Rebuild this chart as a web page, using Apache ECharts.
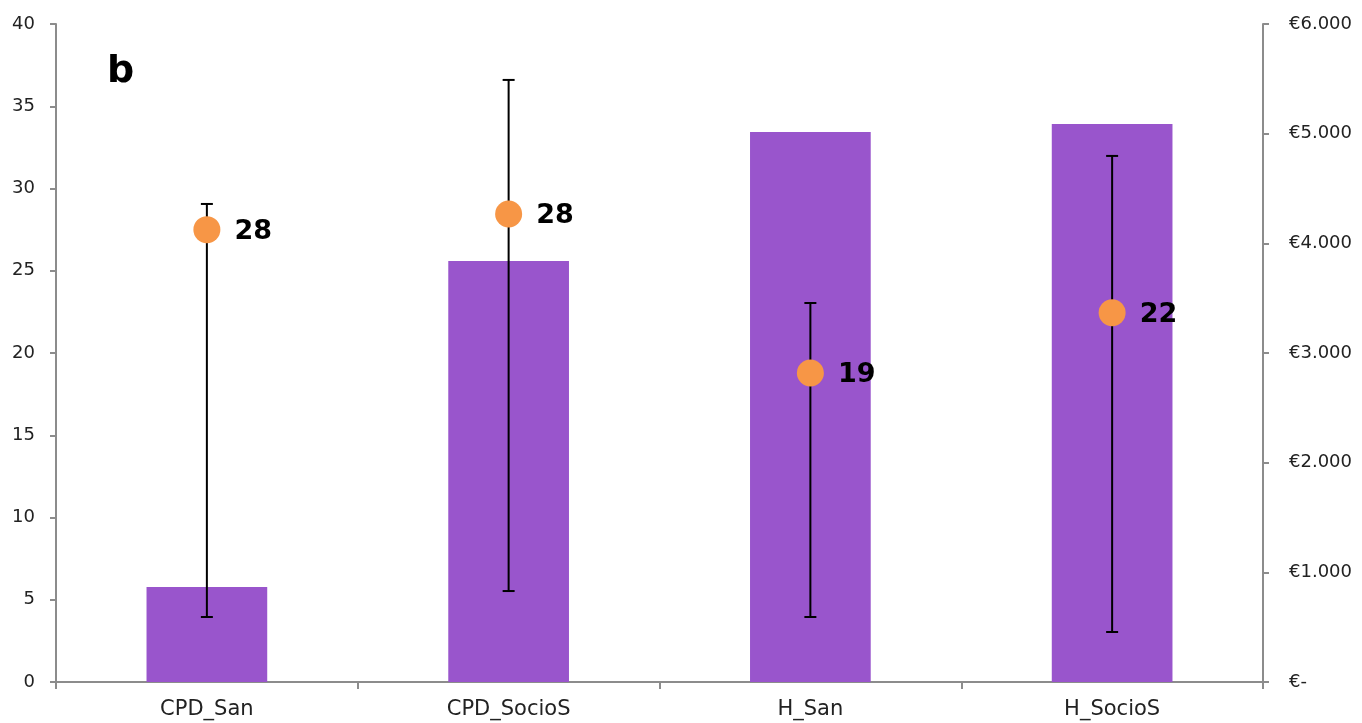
<!DOCTYPE html>
<html><head><meta charset="utf-8">
<script src="https://cdn.jsdelivr.net/npm/echarts@6/dist/echarts.min.js"></script>
<style>html,body{margin:0;padding:0;background:#fff}#c{width:1362px;height:723px}</style>
</head><body><div id="c"></div>
<script>
const categories = ['CPD_San', 'CPD_SocioS', 'H_San', 'H_SocioS'];
const costs = [866, 3840, 5015, 5088];          // bars, right axis (€)
const meanValues = [27.5, 28.45, 18.78, 22.45];  // dots, left axis
const errLow = [3.95, 5.53, 3.95, 3.04];
const errHigh = [29.06, 36.6, 23.04, 31.98];
const pointLabels = ['28', '28', '19', '22'];
const leftTicks = {min: 0, max: 40, interval: 5};
const rightTicks = {min: 0, max: 6000, interval: 1000};

const chart = echarts.init(document.getElementById('c'));
const axisColor = '#8c8c8c';
const fontAxis = "'DejaVu Sans', sans-serif";
chart.setOption({
  animation: false,
  grid: {left: 56, right: 99, top: 24, bottom: 41},
  graphic: [{type: 'text', left: 107, top: 53, style: {text: 'b', font: "bold 38px 'DejaVu Sans', sans-serif", fill: '#000'}}],
  xAxis: {
    type: 'category', data: categories,
    axisLine: {lineStyle: {color: axisColor, width: 2}},
    axisTick: {show: true, length: 7, lineStyle: {color: axisColor, width: 2}},
    axisLabel: {color: '#222', fontSize: 21, fontFamily: fontAxis, margin: 17}
  },
  yAxis: [{
    type: 'value', min: leftTicks.min, max: leftTicks.max, interval: leftTicks.interval,
    splitLine: {show: false},
    axisLine: {show: true, lineStyle: {color: axisColor, width: 2}},
    axisTick: {show: true, length: 6, lineStyle: {color: axisColor, width: 2}},
    axisLabel: {color: '#222', fontSize: 18, fontFamily: fontAxis, margin: 21}
  }, {
    type: 'value', position: 'right', min: rightTicks.min, max: rightTicks.max, interval: rightTicks.interval,
    splitLine: {show: false},
    axisLine: {show: true, lineStyle: {color: axisColor, width: 2}},
    axisTick: {show: true, length: 6, lineStyle: {color: axisColor, width: 2}},
    axisLabel: {color: '#222', fontSize: 18, fontFamily: fontAxis, margin: 26,
      formatter: v => v === 0 ? '€-' : '€' + String(v).replace(/\B(?=(\d{3})+(?!\d))/g, '.')}
  }],
  series: [{
    type: 'bar', yAxisIndex: 1, data: costs, barWidth: '40%',
    itemStyle: {color: '#9955CC'}, z: 1
  }, {
    type: 'custom', yAxisIndex: 0, z: 3,
    data: categories.map((c, i) => [i, errLow[i], errHigh[i]]),
    renderItem: (params, api) => {
      const x = api.value(0);
      const lo = api.coord([x, api.value(1)]);
      const hi = api.coord([x, api.value(2)]);
      const cap = 6;
      const st = {stroke: '#000', lineWidth: 2};
      return {type: 'group', children: [
        {type: 'line', shape: {x1: lo[0], y1: lo[1], x2: hi[0], y2: hi[1]}, style: st},
        {type: 'line', shape: {x1: lo[0] - cap, y1: lo[1], x2: lo[0] + cap, y2: lo[1]}, style: st},
        {type: 'line', shape: {x1: hi[0] - cap, y1: hi[1], x2: hi[0] + cap, y2: hi[1]}, style: st}
      ]};
    }
  }, {
    type: 'scatter', yAxisIndex: 0, z: 5,
    data: meanValues, symbolSize: 27,
    itemStyle: {color: '#F79646', opacity: 1},
    label: {show: true, position: 'right', distance: 14, offset: [0, 2],
      formatter: p => pointLabels[p.dataIndex],
      color: '#000', fontSize: 27, fontWeight: 'bold', fontFamily: "'DejaVu Sans', sans-serif"}
  }]
});
</script></body></html>
